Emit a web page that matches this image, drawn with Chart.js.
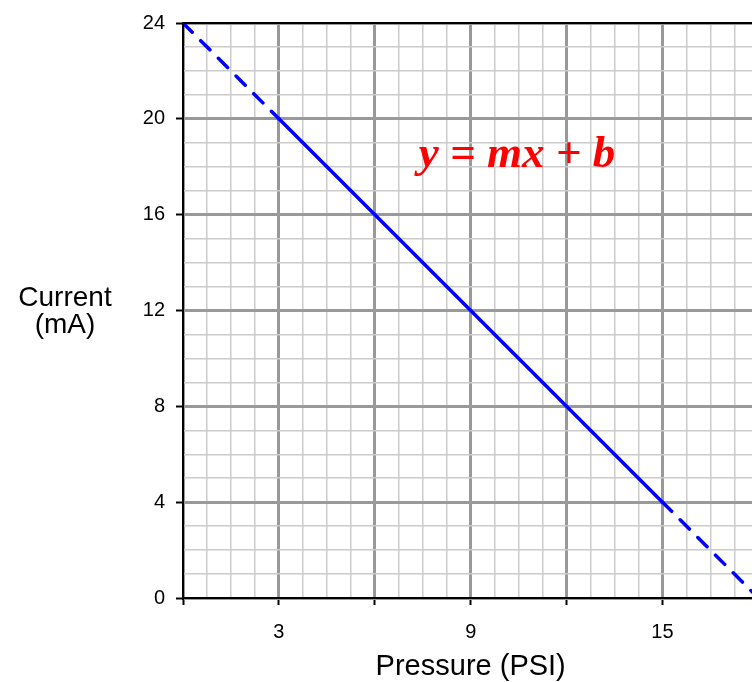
<!DOCTYPE html>
<html>
<head>
<meta charset="utf-8">
<script src="https://cdn.jsdelivr.net/npm/chart.js@4/dist/chart.umd.min.js"></script>
<style>
  html, body { margin: 0; padding: 0; background: #fff; overflow: hidden; }
  #wrap { width: 752px; height: 682px; }
</style>
</head>
<body>
<div id="wrap"><canvas id="chart"></canvas></div>
<script>
// line end points
const pressure = [0, 3, 15, 18];
const current = [24, 20, 4, 0];
// labelled ticks
const xLabels = [3, 9, 15];
const yLabels = [0, 4, 8, 12, 16, 20, 24];

const xTitle = 'Pressure (PSI)';
const yTitle = ['Current', '(mA)'];
const equation = 'y = mx + b';

const points = pressure.map((p, i) => ({ x: p, y: current[i] }));

const textPlugin = {
  id: 'texts',
  afterDraw(chart) {
    const ctx = chart.ctx;
    const a = chart.chartArea;
    ctx.save();
    // top border
    ctx.strokeStyle = '#000';
    ctx.lineWidth = 2;
    ctx.beginPath();
    ctx.moveTo(a.left, a.top);
    ctx.lineTo(a.right, a.top);
    ctx.stroke();

    ctx.fillStyle = '#000';
    ctx.font = '28px "Liberation Sans", Arial, sans-serif';
    ctx.textAlign = 'center';
    ctx.textBaseline = 'alphabetic';
    ctx.fillText(yTitle[0], 65, 306);
    ctx.fillText(yTitle[1], 65, 333);
    ctx.font = '29px "Liberation Sans", Arial, sans-serif';
    ctx.fillText(xTitle, chart.scales.x.getPixelForValue(9), 675);

    ctx.fillStyle = '#ff0000';
    ctx.font = 'italic bold 45px "Liberation Serif", "Times New Roman", serif';
    ctx.fillText(equation, 517, 167);
    ctx.restore();
  }
};

const config = {
  type: 'scatter',
  data: {
    datasets: [{
      data: points,
      showLine: true,
      borderColor: '#0000ff',
      borderWidth: 3.5,
      pointRadius: 0,
      borderCapStyle: 'round',
      segment: {
        borderDash: c => c.p0DataIndex === 1 ? [] : [13, 12]
      }
    }]
  },
  options: {
    animation: false,
    responsive: true,
    maintainAspectRatio: false,
    plugins: {
      legend: { display: false },
      tooltip: { enabled: false }
    },
    layout: {
      padding: { top: 21, left: 0, right: 0, bottom: 0 }
    },
    scales: {
      x: {
        type: 'linear',
        min: 0,
        max: 17.8,
        afterFit: s => { s.height = 84; },
        border: { color: '#000', width: 2, z: 1 },
        grid: {
          color: c => c.tick.value % 3 === 0 ? '#999999' : '#cccccc',
          lineWidth: c => c.tick.value % 3 === 0 ? 3 : 1.5,
          tickColor: c => c.tick.value % 3 === 0 ? '#000' : 'rgba(0,0,0,0)',
          tickWidth: 2,
          tickLength: 7
        },
        ticks: {
          stepSize: 0.75,
          includeBounds: false,
          autoSkip: false,
          maxRotation: 0,
          padding: 15,
          color: '#000',
          font: { family: '"Liberation Sans", Arial, sans-serif', size: 20 },
          callback: v => xLabels.includes(v) ? v : ''
        }
      },
      y: {
        type: 'linear',
        min: 0,
        max: 24,
        afterFit: s => { s.width = 183; },
        border: { color: '#000', width: 2, z: 1 },
        grid: {
          color: c => c.tick.value % 4 === 0 ? '#999999' : '#cccccc',
          lineWidth: c => c.tick.value % 4 === 0 ? 3 : 1.5,
          tickColor: c => c.tick.value % 4 === 0 ? '#000' : 'rgba(0,0,0,0)',
          tickWidth: 2,
          tickLength: 7
        },
        ticks: {
          stepSize: 1,
          autoSkip: false,
          padding: 11,
          color: '#000',
          font: { family: '"Liberation Sans", Arial, sans-serif', size: 20 },
          callback: v => yLabels.includes(v) ? v : ''
        }
      }
    }
  },
  plugins: [textPlugin]
};

const chart = new Chart(document.getElementById('chart'), config);
</script>
</body>
</html>
